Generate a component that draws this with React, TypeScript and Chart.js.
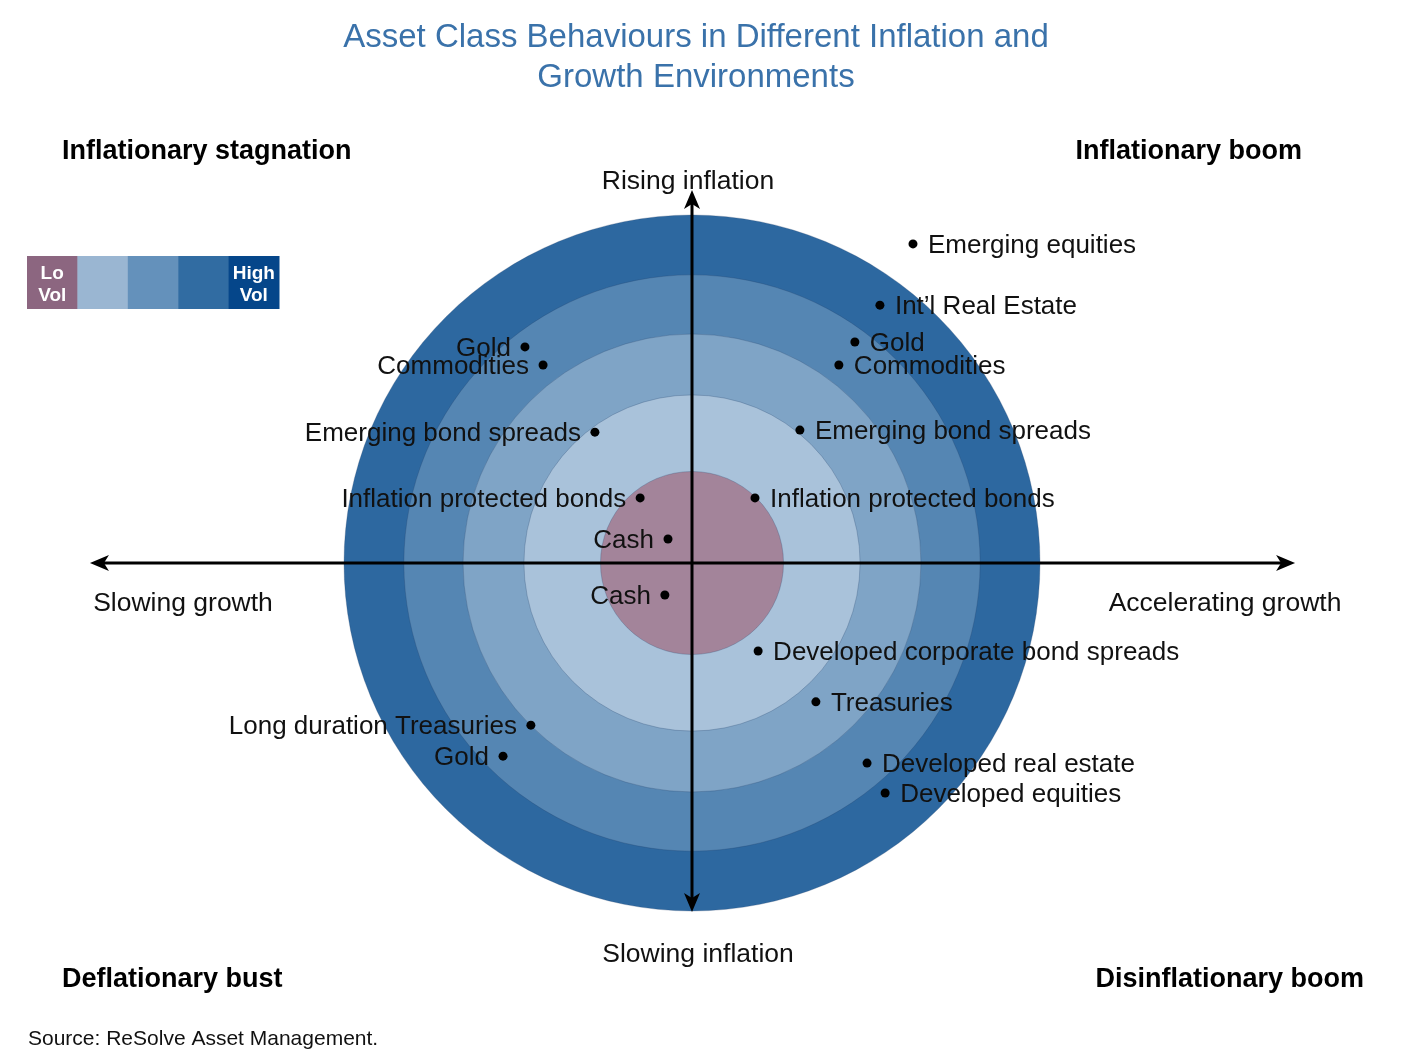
import React, { useEffect, useRef } from "react";
import { Chart, registerables } from "chart.js";

Chart.register(...registerables);

// ---- Data (units: outer ring radius = 100) ----
const assetNames = [
  "Emerging equities", "Int\u2019l Real Estate", "Gold", "Commodities", "Emerging bond spreads", "Inflation protected bonds",
  "Gold", "Commodities", "Emerging bond spreads", "Inflation protected bonds", "Cash",
  "Cash", "Long duration Treasuries", "Gold",
  "Developed corporate bond spreads", "Treasuries", "Developed real estate", "Developed equities",
];
const growthValues = [
  63.5, 54.0, 46.8, 42.2, 31.0, 18.1,
  -48.0, -42.8, -27.9, -14.9, -6.9,
  -7.8, -46.3, -54.3,
  19.0, 35.6, 50.3, 55.5,
];
const inflationValues = [
  91.7, 74.1, 63.5, 56.9, 38.2, 18.7,
  62.1, 56.9, 37.6, 18.7, 6.9,
  -9.2, -46.6, -55.5,
  -25.3, -39.9, -57.5, -66.1,
];
const ringRadii = [100, 82.8, 65.8, 48.3, 26.3];
const ringColors = ["#2d68a0", "#5586b3", "#7fa4c6", "#a9c2da", "#a3849a"];
const legendColors = ["#8c6680", "#9ab6d2", "#6491bb", "#316ca2", "#05468a"];
const legendTexts = ["Lo\nVol", "", "", "", "High\nVol"];
const titleLines = ["Asset Class Behaviours in Different Inflation and", "Growth Environments"];
const quadrantTitles = ["Inflationary stagnation", "Inflationary boom", "Deflationary bust", "Disinflationary boom"];
const axisLabels = ["Rising inflation", "Slowing inflation", "Slowing growth", "Accelerating growth"];
const sourceText = "Source: ReSolve Asset Management.";

const W = 1414;
const H = 1064;
const CX = 692;
const CY = 563;
const PX_PER_UNIT = 3.48;

const FONT = '"Liberation Sans", Arial, Helvetica, sans-serif';

function arrowHead(ctx: CanvasRenderingContext2D, tx: number, ty: number, dx: number, dy: number) {
  const len = 19, half = 8, notch = 14;
  const px = -dy, py = dx;
  ctx.beginPath();
  ctx.moveTo(tx, ty);
  ctx.lineTo(tx - dx * len + px * half, ty - dy * len + py * half);
  ctx.lineTo(tx - dx * notch, ty - dy * notch);
  ctx.lineTo(tx - dx * len - px * half, ty - dy * len - py * half);
  ctx.closePath();
  ctx.fill();
}

const quadrantPlugin = {
  id: "quadrantPlugin",
  beforeDatasetsDraw(chart: any) {
    const { ctx, scales } = chart;
    const xs = scales.x, ys = scales.y;
    const cx = xs.getPixelForValue(0);
    const cy = ys.getPixelForValue(0);
    const unit = xs.getPixelForValue(1) - cx;
    ctx.save();
    ringRadii.forEach((r, i) => {
      ctx.beginPath();
      ctx.arc(cx, cy, r * unit, 0, Math.PI * 2);
      ctx.fillStyle = ringColors[i];
      ctx.fill();
      ctx.lineWidth = 1;
      ctx.strokeStyle = "rgba(30,60,100,0.25)";
      ctx.stroke();
    });
    // axes
    ctx.strokeStyle = "#000";
    ctx.fillStyle = "#000";
    ctx.lineWidth = 3;
    const xl = xs.getPixelForValue(-173), xr = xs.getPixelForValue(173.3);
    const yt = ys.getPixelForValue(107.2), yb = ys.getPixelForValue(-100.3);
    ctx.beginPath();
    ctx.moveTo(xl + 10, cy);
    ctx.lineTo(xr - 10, cy);
    ctx.stroke();
    ctx.beginPath();
    ctx.moveTo(cx, yt + 10);
    ctx.lineTo(cx, yb - 10);
    ctx.stroke();
    arrowHead(ctx, xr, cy, 1, 0);
    arrowHead(ctx, xl, cy, -1, 0);
    arrowHead(ctx, cx, yt, 0, -1);
    arrowHead(ctx, cx, yb, 0, 1);
    ctx.restore();
  },
  afterDatasetsDraw(chart: any) {
    const { ctx, scales } = chart;
    const xs = scales.x, ys = scales.y;
    ctx.save();
    // point labels
    ctx.fillStyle = "#111";
    ctx.font = `26px ${FONT}`;
    ctx.textBaseline = "middle";
    assetNames.forEach((name, i) => {
      const px = xs.getPixelForValue(growthValues[i]);
      const py = ys.getPixelForValue(inflationValues[i]);
      if (growthValues[i] >= 0) {
        ctx.textAlign = "left";
        ctx.fillText(name, px + 15, py + 1.5);
      } else {
        ctx.textAlign = "right";
        ctx.fillText(name, px - 14, py + 1.5);
      }
    });
    // title
    ctx.fillStyle = "#3a72aa";
    ctx.font = `33px ${FONT}`;
    ctx.textAlign = "center";
    ctx.fillText(titleLines[0], 696, 38);
    ctx.fillText(titleLines[1], 696, 78);
    // quadrant titles
    ctx.fillStyle = "#000";
    ctx.font = `bold 27px ${FONT}`;
    ctx.textAlign = "left";
    ctx.fillText(quadrantTitles[0], 62, 152);
    ctx.fillText(quadrantTitles[2], 62, 980);
    ctx.textAlign = "right";
    ctx.fillText(quadrantTitles[1], 1302, 152);
    ctx.fillText(quadrantTitles[3], 1364, 980);
    // axis labels
    ctx.font = `26.5px ${FONT}`;
    ctx.fillStyle = "#111";
    ctx.textAlign = "center";
    ctx.fillText(axisLabels[0], 688, 182);
    ctx.fillText(axisLabels[1], 698, 955);
    ctx.fillText(axisLabels[2], 183, 604);
    ctx.fillText(axisLabels[3], 1225, 604);
    // source
    ctx.textAlign = "left";
    ctx.font = `21px ${FONT}`;
    ctx.fillText(sourceText, 28, 1039);
    // legend
    const lx = 27, ly = 256, bw = 50.4, bh = 53;
    legendColors.forEach((c, i) => {
      ctx.fillStyle = c;
      ctx.fillRect(lx + i * bw, ly, bw + 0.5, bh);
      const t = legendTexts[i];
      if (t) {
        const parts = t.split("\n");
        ctx.fillStyle = "#fff";
        ctx.font = `bold 19px ${FONT}`;
        ctx.textAlign = "center";
        ctx.fillText(parts[0], lx + i * bw + bw / 2, ly + 18);
        ctx.fillText(parts[1], lx + i * bw + bw / 2, ly + 40);
      }
    });
    ctx.restore();
  },
};

export default function App() {
  const canvasRef = useRef<HTMLCanvasElement | null>(null);
  useEffect(() => {
    if (!canvasRef.current) return;
    const points = growthValues.map((g, i) => ({ x: g, y: inflationValues[i] }));
    const chart = new Chart(canvasRef.current, {
      type: "scatter",
      data: {
        datasets: [
          {
            data: points,
            pointRadius: 4.5,
            pointHoverRadius: 4.5,
            backgroundColor: "#000",
            borderColor: "#000",
            borderWidth: 0,
          },
        ],
      },
      options: {
        responsive: false,
        animation: false,
        layout: { padding: 0, autoPadding: false },
        plugins: { legend: { display: false }, tooltip: { enabled: false }, title: { display: false } },
        scales: {
          x: { type: "linear", display: false, min: -CX / PX_PER_UNIT, max: (W - CX) / PX_PER_UNIT },
          y: { type: "linear", display: false, min: -(H - CY) / PX_PER_UNIT, max: CY / PX_PER_UNIT },
        },
      },
      plugins: [quadrantPlugin],
    });
    return () => chart.destroy();
  }, []);
  return (
    <div style={{ position: "fixed", left: 0, top: 0, width: W, height: H, background: "#fff" }}>
      <canvas ref={canvasRef} width={W} height={H} style={{ display: "block" }} />
    </div>
  );
}
